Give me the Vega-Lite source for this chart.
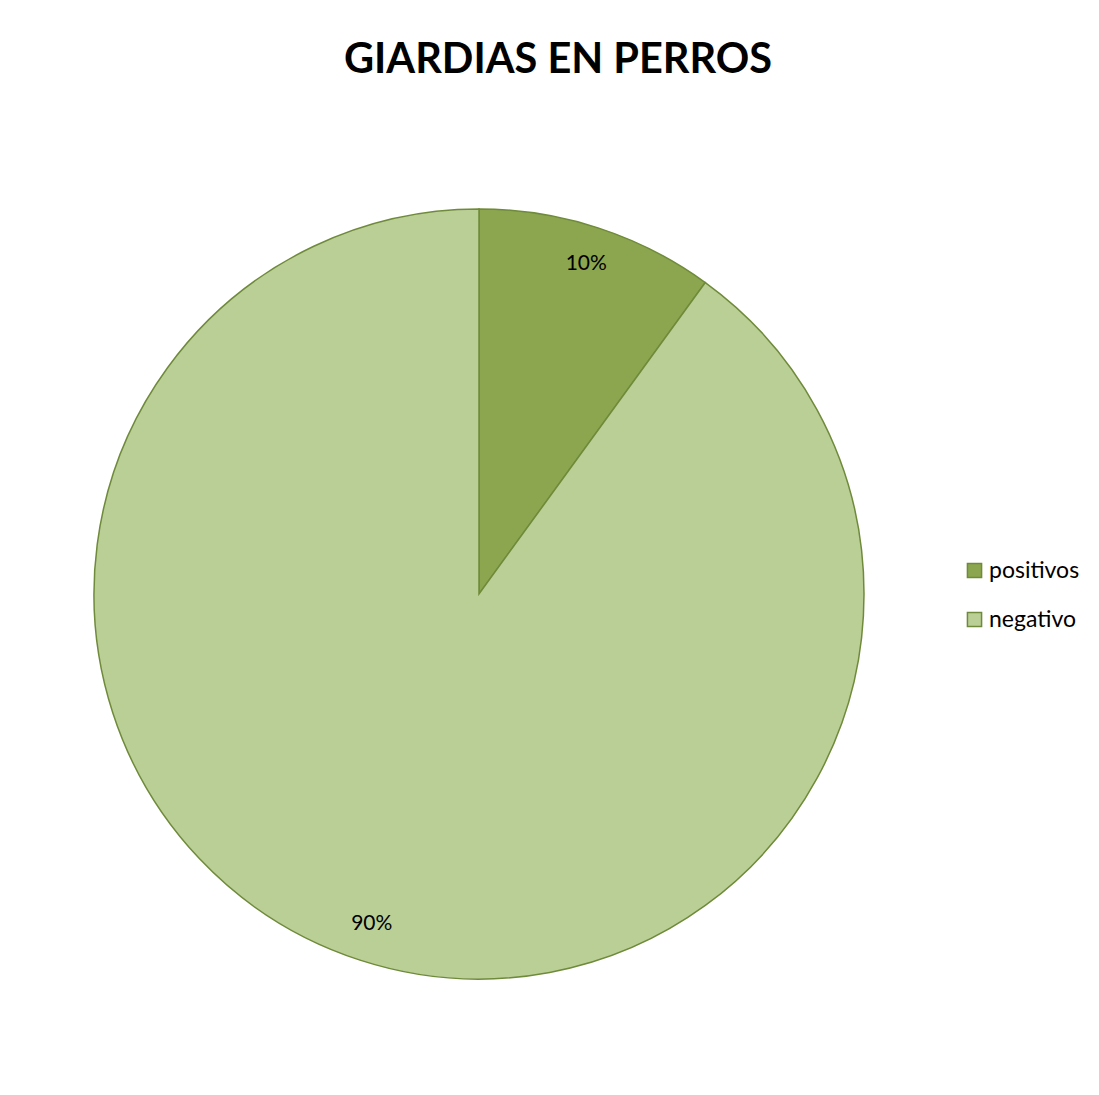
{
  "$schema": "https://vega.github.io/schema/vega-lite/v6.json",
  "width": 958,
  "height": 988,
  "autosize": {"type": "none"},
  "padding": {"left": 0, "top": 100, "right": 141, "bottom": 7},
  "background": "white",
  "title": {
    "text": "GIARDIAS EN PERROS",
    "font": "Lato",
    "fontSize": 41.5,
    "fontWeight": "bold",
    "color": "black",
    "anchor": "middle",
    "offset": 19,
    "dx": 79
  },
  "data": {
    "values": [
      {"categoria": "positivos", "valor": 10, "etiqueta": "10%"},
      {"categoria": "negativo", "valor": 90, "etiqueta": "90%"}
    ]
  },
  "encoding": {
    "theta": {"field": "valor", "type": "quantitative", "stack": true},
    "order": {"field": "valor", "type": "quantitative", "sort": "ascending"}
  },
  "layer": [
    {
      "mark": {"type": "arc", "outerRadius": 385, "stroke": "#6f8a3a", "strokeWidth": 1.5},
      "encoding": {
        "color": {
          "field": "categoria",
          "type": "nominal",
          "scale": {"domain": ["positivos", "negativo"], "range": ["#8ba64e", "#bacf96"]},
          "legend": {
            "title": null,
            "orient": "none",
            "legendX": 963,
            "legendY": 459,
            "symbolType": "square",
            "symbolSize": 200,
            "symbolStrokeColor": "#6f8a3a",
            "symbolStrokeWidth": 1.5,
            "symbolOpacity": 1,
            "labelFont": "Lato",
            "labelFontSize": 23,
            "labelColor": "black",
            "labelLimit": 0,
            "labelOffset": 3,
            "rowPadding": 25
          }
        }
      }
    },
    {
      "mark": {"type": "text", "radius": 347, "font": "Lato", "fontSize": 21, "color": "black"},
      "encoding": {"text": {"field": "etiqueta", "type": "nominal"}}
    }
  ],
  "config": {"view": {"stroke": null}}
}
